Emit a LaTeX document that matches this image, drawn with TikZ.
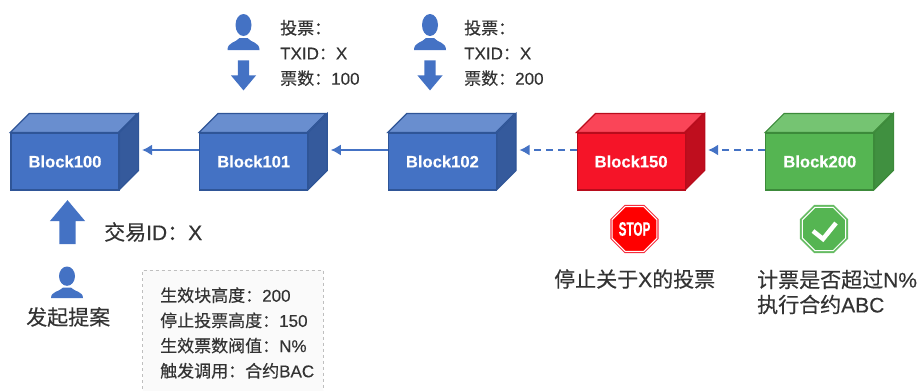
\documentclass[tikz,border=0pt]{standalone}
\usepackage{fontspec}
\setmainfont{Liberation Sans}[FakeBold=0.35]
\newfontfamily\cjk{Noto Sans CJK SC}[FakeBold=0.35]
\usetikzlibrary{shapes,arrows.meta,calc}
\definecolor{blockblue}{HTML}{4472C4}
\definecolor{blockblueline}{HTML}{2F5597}
\definecolor{blockbluetop}{HTML}{698ECF}
\definecolor{blockblueside}{HTML}{355A9C}
\definecolor{blockred}{HTML}{F51428}
\definecolor{blockredline}{HTML}{B80C1C}
\definecolor{blockredtop}{HTML}{FA4558}
\definecolor{blockredside}{HTML}{BF0E1E}
\definecolor{blockgreen}{HTML}{55B552}
\definecolor{blockgreenline}{HTML}{3C8A3A}
\definecolor{blockgreentop}{HTML}{75C472}
\definecolor{blockgreenside}{HTML}{409040}
\definecolor{textgray}{HTML}{333333}
\tikzstyle{line} = [draw, blockblue, line width=1.5pt, -{Latex[length=10pt,width=11pt]}]
\tikzstyle{dashline} = [line, dash pattern=on 7pt off 5pt]
\tikzstyle{block} = [rectangle, text centered, text=white, font=\bfseries\fontsize{16.6}{18}\selectfont, minimum width=108pt, minimum height=57pt, line width=1.2pt, inner sep=0pt]
\tikzstyle{note} = [anchor=west, align=left, inner sep=0pt, text=textgray, font=\fontsize{17}{25.2}\selectfont]
\tikzstyle{title} = [anchor=west, align=left, inner sep=0pt, text=textgray, font=\fontsize{21}{25}\selectfont]
\tikzstyle{bigarrow} = [single arrow, fill=blockblue, single arrow tip angle=80, single arrow head extend=7pt, inner sep=5.5pt, minimum width=25pt, minimum height=30pt]
\tikzstyle{octagon} = [regular polygon, regular polygon sides=8, inner sep=0pt, minimum size=52pt]
\tikzset{person/.pic={
  \fill[blockblue] (0,11) ellipse (8 and 11);
  \fill[blockblue] (-16,36) .. controls (-16,28) and (-8,29) .. (-4,24) -- (4,24) .. controls (8,29) and (16,28) .. (16,36) -- cycle;
}}
% faces of a block and its two connector ends
\newcommand{\blockfaces}[2]{
  \draw[fill=#2top, draw=#2line, line width=1.2pt] (#1.north west) -- ++(19,-19) -- ++(108,0) -- ++(-19,19) -- cycle;
  \draw[fill=#2side, draw=#2line, line width=1.2pt] (#1.north east) -- ++(19,-19) -- ++(0,57) -- ++(-19,19) -- cycle;
  \coordinate (#1out) at ($(#1.west)+(0,-11.5)$);
  \coordinate (#1in) at ($(#1.east)+(22.5,-11.5)$);
}
\begin{document}
\begin{tikzpicture}[x=1pt, y=-1pt, node distance=188.7pt]
        \useasboundingbox (0,0) rectangle (919,391);
        \node[block, fill=blockblue, draw=blockblueline] at (65,161.5) (b100) {Block100};
        \node[block, fill=blockblue, draw=blockblueline, right of=b100] (b101) {Block101};
        \node[block, fill=blockblue, draw=blockblueline, right of=b101] (b102) {Block102};
        \node[block, fill=blockred, draw=blockredline, right of=b102] (b150) {Block150};
        \node[block, fill=blockgreen, draw=blockgreenline, right of=b150] (b200) {Block200};
        \blockfaces{b100}{blockblue}
        \blockfaces{b101}{blockblue}
        \blockfaces{b102}{blockblue}
        \blockfaces{b150}{blockred}
        \blockfaces{b200}{blockgreen}
        \path[line] (b101out) -- (b100in);
        \path[line] (b102out) -- (b101in);
        \path[dashline] (b150out) -- (b102in);
        \path[dashline] (b200out) -- (b150in);
        % voters
        \pic (voter1) at (243.5,14) {person};
        \pic (voter2) at (430,14) {person};
        \node[bigarrow, shape border rotate=270] at (243.5,72) (arrow1) {};
        \node[bigarrow, shape border rotate=270] at (430,72) (arrow2) {};
        \node[note] at (280,53) (vote1) {{\cjk 投票：}\\TXID{\cjk ：}X\\{\cjk 票数：}100};
        \node[note] at (464,53) (vote2) {{\cjk 投票：}\\TXID{\cjk ：}X\\{\cjk 票数：}200};
        % proposal
        \node[bigarrow, shape border rotate=90, minimum width=35pt, minimum height=44pt, inner sep=8pt, single arrow head extend=9.5pt] at (67.5,227) (arrow0) {};
        \pic[yscale=0.88] (proposer) at (67,266.5) {person};
        \node[title] at (104,232) (txid) {{\cjk 交易}ID{\cjk ：}X};
        \node[title] at (26,317) (propose) {\cjk 发起提案};
        \draw[gray!50, dashed, fill=gray!4] (142.5,395) -- (142.5,270) -- (323,270) -- (323,395);
        \node[note] at (160,333) (params) {{\cjk 生效块高度：}200\\{\cjk 停止投票高度：}150\\{\cjk 生效票数阀值：}N\%\\{\cjk 触发调用：合约}BAC};
        % stop and check signs
        \node[octagon, fill=blockred!90!white] at (634.5,229) (stop) {};
        \node[octagon, minimum size=47pt, fill=red, draw=white, line width=1pt, text=white, font=\bfseries\fontsize{19.5}{19}\selectfont] at (634.5,229) (stoptext) {\scalebox{0.6}[1]{STOP}};
        \node[octagon, fill=blockgreen!90!white] at (824,229) (check) {};
        \node[octagon, minimum size=47pt, fill=blockgreen, draw=white, line width=1pt] at (824,229) (checkmark) {};
        \draw[white, line width=4.5pt] (813,231) -- (823,239) -- (836,223);
        \node[title] at (554,279) (stoplabel) {{\cjk 停止关于}X{\cjk 的投票}};
        \node[title] at (757,292) (checklabel) {{\cjk 计票是否超过}N\%\\{\cjk 执行合约}ABC};
\end{tikzpicture}
\end{document}
